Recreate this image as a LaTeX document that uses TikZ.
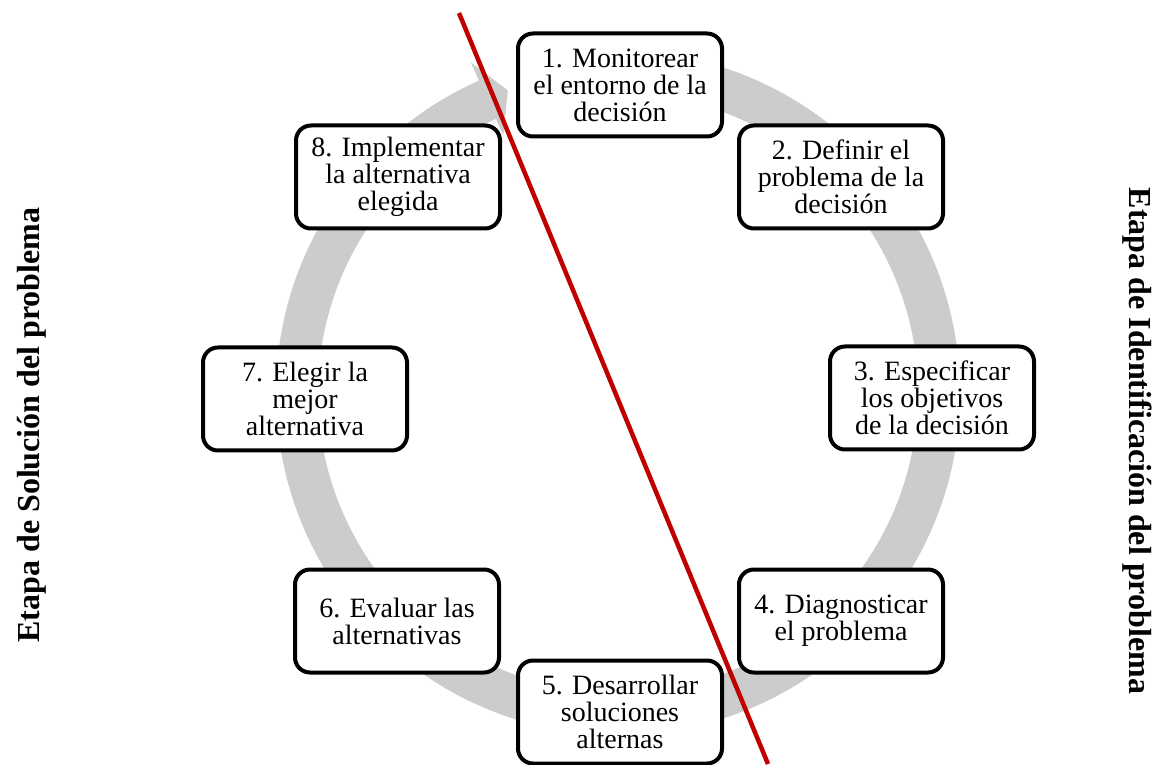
\documentclass[tikz,border=0pt]{standalone}
\usepackage{fontspec}
\setmainfont{Liberation Serif}
\usetikzlibrary{calc}
\definecolor{ringgray}{RGB}{204,204,204}
\definecolor{cutred}{RGB}{192,0,0}
\tikzset{
  stepbox/.style={draw=black, fill=white, line width=4pt, rounded corners=15pt,
    minimum width=204pt, minimum height=103pt, align=center, inner sep=2pt,
    font=\fontsize{28}{27}\selectfont},
  sidelabel/.style={font=\fontsize{32}{34}\selectfont\bfseries, inner sep=0pt},
  cutline/.style={draw=cutred, line width=4.5pt}
}
\begin{document}
\begin{tikzpicture}[x=1pt,y=1pt]
\useasboundingbox (0,0) rectangle (1157,764);
\coordinate (c) at (618,371);
% gray circular arrow
\fill[ringgray] ($(c)+(100:342)$) arc[start angle=100, end angle=-246, radius=342]
  -- ($(c)+(-246:362)$) -- ($(c)+(-250:322)$) -- ($(c)+(-246:282)$)
  -- ($(c)+(-246:300)$) arc[start angle=-246, end angle=100, radius=300] -- cycle;
% boxes
\node[stepbox] (s1) at (620,679) {1. Monitorear\\el entorno de la\\decisión};
\node[stepbox] (s2) at (841,587) {2. Definir el\\problema de la\\decisión};
\node[stepbox] (s3) at (932,366) {3. Especificar\\los objetivos\\de la decisión};
\node[stepbox] (s4) at (841,143) {4. Diagnosticar\\el problema};
\node[stepbox] (s5) at (620,52) {5. Desarrollar\\soluciones\\alternas};
\node[stepbox] (s6) at (397,143) {6. Evaluar las\\alternativas};
\node[stepbox] (s7) at (305,365) {7. Elegir la\\mejor\\alternativa};
\node[stepbox] (s8) at (398,587) {8. Implementar\\la alternativa\\elegida};
% red dividing line
\coordinate (ltop) at (459,751);
\coordinate (lbot) at (768,0);
\draw[cutline] (ltop) -- (lbot);
% side labels
\node[sidelabel, rotate=90] (left) at (32,339) {Etapa de Solución del problema};
\node[sidelabel, rotate=-90] (right) at (1137,323) {Etapa de Identificación del problema};
\end{tikzpicture}
\end{document}
